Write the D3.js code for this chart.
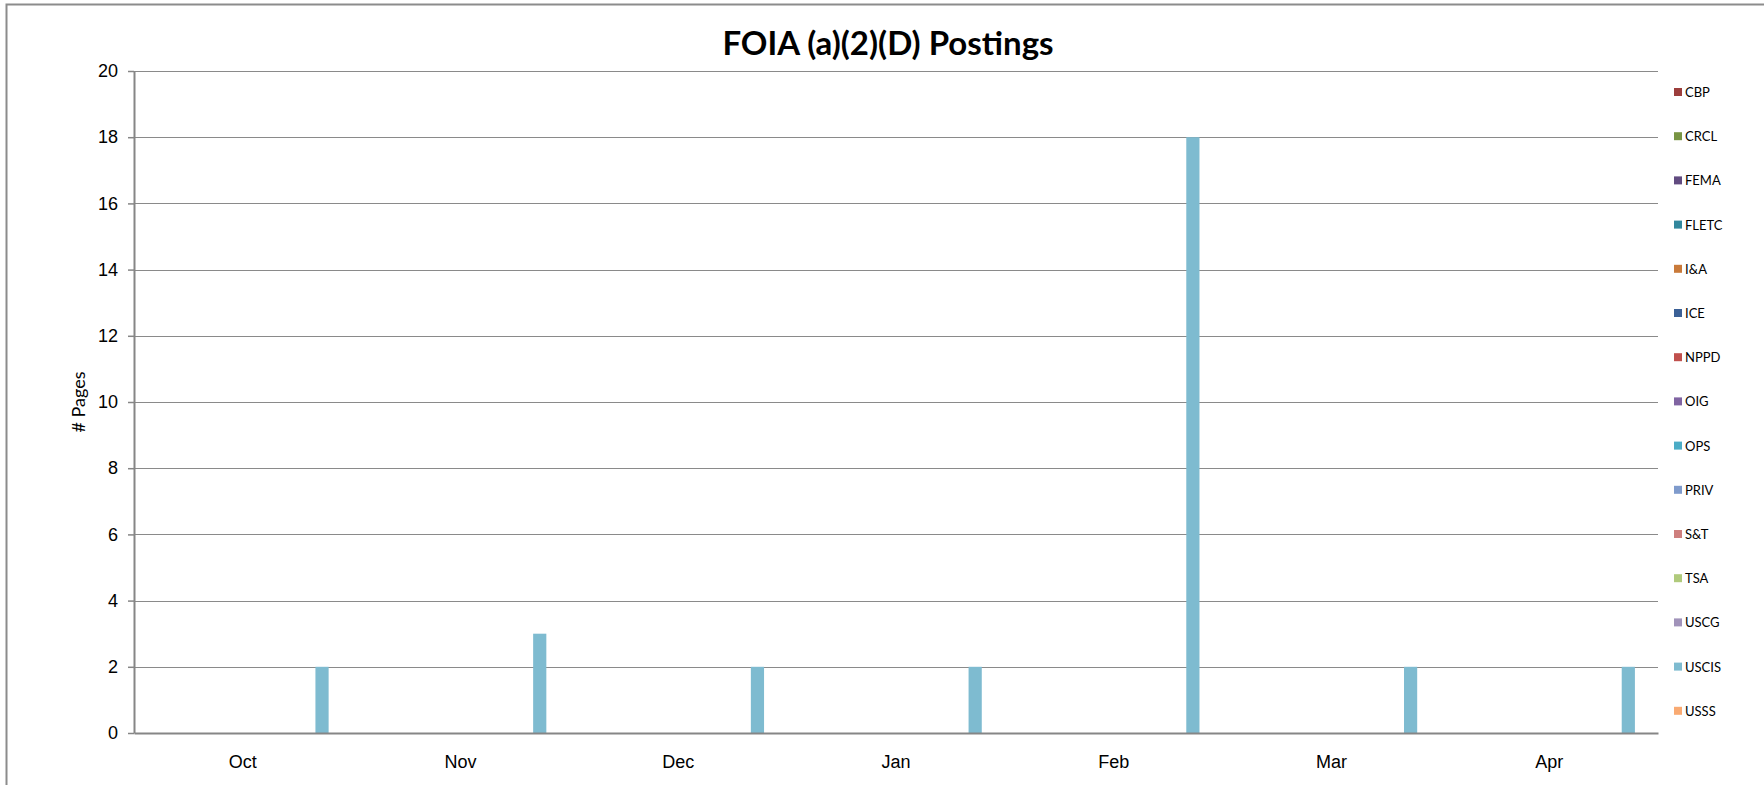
<!DOCTYPE html>
<html>
  <head>
    <meta charset="utf-8">
    <title>FOIA (a)(2)(D) Postings</title>
    <style>
      body { margin: 0; background: #fff; }
      svg { display: block; font-family: Lato, "Open Sans", sans-serif; }
      .grid line { stroke: #8a8a8a; stroke-width: 1px; shape-rendering: crispEdges; }
      .axis path, .axis line { stroke: #868686; }
      .axis text { fill: #000; font-size: 18px; }
      .legend text { font-size: 13px; fill: #000; }
    </style>
  </head>
  <body>
    <svg width="1764" height="785"></svg>
    <script src="https://d3js.org/d3.v7.min.js"></script>
    <script>
      // months along the x axis
      const months = ["Oct", "Nov", "Dec", "Jan", "Feb", "Mar", "Apr"];

      // one array per agency, pages posted each month
      const cbp   = [0, 0, 0, 0, 0, 0, 0];
      const crcl  = [0, 0, 0, 0, 0, 0, 0];
      const fema  = [0, 0, 0, 0, 0, 0, 0];
      const fletc = [0, 0, 0, 0, 0, 0, 0];
      const ia    = [0, 0, 0, 0, 0, 0, 0];
      const ice   = [0, 0, 0, 0, 0, 0, 0];
      const nppd  = [0, 0, 0, 0, 0, 0, 0];
      const oig   = [0, 0, 0, 0, 0, 0, 0];
      const ops   = [0, 0, 0, 0, 0, 0, 0];
      const priv  = [0, 0, 0, 0, 0, 0, 0];
      const st    = [0, 0, 0, 0, 0, 0, 0];
      const tsa   = [0, 0, 0, 0, 0, 0, 0];
      const uscg  = [0, 0, 0, 0, 0, 0, 0];
      const uscis = [2, 3, 2, 2, 18, 2, 2];
      const usss  = [0, 0, 0, 0, 0, 0, 0];

      const agencies = ["CBP", "CRCL", "FEMA", "FLETC", "I&A", "ICE", "NPPD", "OIG",
                        "OPS", "PRIV", "S&T", "TSA", "USCG", "USCIS", "USSS"];
      const values = [cbp, crcl, fema, fletc, ia, ice, nppd, oig, ops, priv, st, tsa, uscg, uscis, usss];
      const colors = ["#9c3e3c", "#789443", "#614b80", "#32879d", "#c97a3a", "#3b6096",
                      "#c0504d", "#8064a2", "#4bacc6", "#7f9bcc", "#ce7f7e", "#b0ca7c",
                      "#a193ba", "#7ebbd0", "#f9aa72"];

      const yTicks = d3.range(0, 21, 2);

      const svg = d3.select("svg");

      // outer chart border
      svg.append("rect")
        .attr("x", 6.5).attr("y", 4.5)
        .attr("width", 1800).attr("height", 900)
        .attr("fill", "none").attr("stroke", "#8c8c8c").attr("stroke-width", 2);

      const plotLeft = 134, plotRight = 1658, plotTop = 71, plotBottom = 733;

      const x0 = d3.scaleBand().domain(months).range([plotLeft, plotRight]).padding(0);
      const x1 = d3.scaleBand().domain(agencies).range([0, x0.bandwidth()])
        .paddingInner(0).paddingOuter(0.75);
      const y = d3.scaleLinear().domain([0, 20]).range([plotBottom, plotTop]);

      // horizontal gridlines
      svg.append("g").attr("class", "grid")
        .selectAll("line")
        .data(yTicks.filter(d => d > 0))
        .join("line")
        .attr("x1", plotLeft).attr("x2", plotRight)
        .attr("y1", d => Math.round(y(d)) + 0.5)
        .attr("y2", d => Math.round(y(d)) + 0.5);

      // bars
      const rows = [];
      agencies.forEach((a, i) => {
        months.forEach((m, j) => rows.push({ agency: a, month: m, value: values[i][j], color: colors[i] }));
      });
      svg.append("g")
        .selectAll("rect")
        .data(rows.filter(d => d.value > 0))
        .join("rect")
        .attr("x", d => x0(d.month) + x1(d.agency))
        .attr("width", x1.bandwidth())
        .attr("y", d => y(d.value))
        .attr("height", d => y(0) - y(d.value))
        .attr("fill", d => d.color);

      // y axis
      const yAxis = svg.append("g").attr("class", "axis")
        .attr("transform", `translate(${plotLeft},0)`)
        .call(d3.axisLeft(y).tickValues(yTicks).tickSize(6).tickSizeOuter(0).tickPadding(10));
      yAxis.select(".domain").attr("stroke-width", 2);
      yAxis.selectAll(".tick line").attr("stroke-width", 1.5);

      // x axis
      const xAxis = svg.append("g").attr("class", "axis")
        .attr("transform", `translate(0,${plotBottom})`)
        .call(d3.axisBottom(x0).tickSize(0).tickPadding(22));
      xAxis.select(".domain").attr("stroke-width", 2);

      // title
      svg.append("text")
        .attr("x", 888).attr("y", 55)
        .attr("text-anchor", "middle")
        .style("font-size", "33px").style("font-weight", "bold")
        .text("FOIA (a)(2)(D) Postings");

      // y axis title
      svg.append("text")
        .attr("transform", `translate(85,${(plotTop + plotBottom) / 2}) rotate(-90)`)
        .attr("text-anchor", "middle")
        .style("font-size", "18px")
        .text("# Pages");

      // legend
      const legend = svg.append("g").attr("class", "legend")
        .selectAll("g")
        .data(agencies)
        .join("g")
        .attr("transform", (d, i) => `translate(1674,${92 + i * 44.2})`);
      legend.append("rect")
        .attr("x", 0).attr("y", -4).attr("width", 8).attr("height", 8)
        .attr("fill", (d, i) => colors[i]);
      legend.append("text")
        .attr("x", 11).attr("y", 5)
        .text(d => d);
    </script>
  </body>
</html>
